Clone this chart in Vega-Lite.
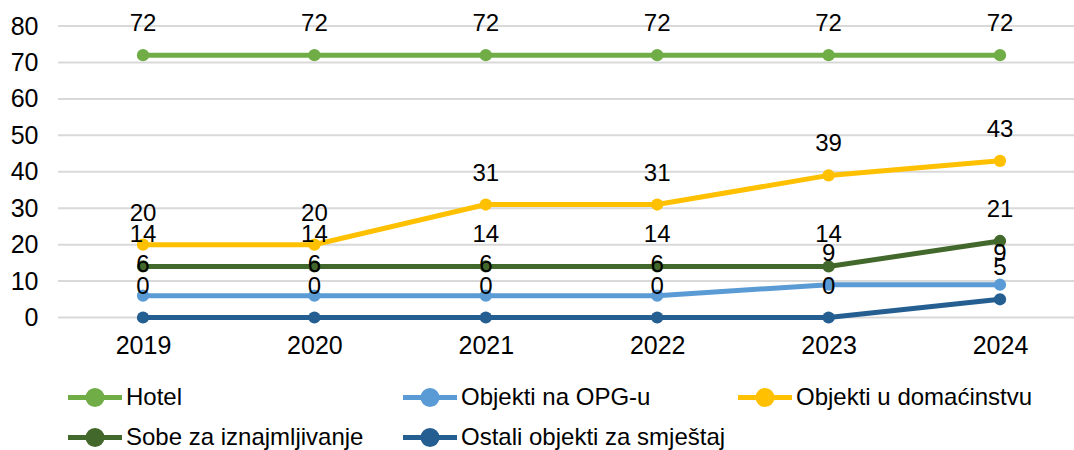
{
  "$schema": "https://vega.github.io/schema/vega-lite/v6.json",
  "width": 1016,
  "height": 291.5,
  "autosize": {"type": "none"},
  "padding": {"left": 58, "top": 26, "right": 0, "bottom": 132.5},
  "config": {
    "view": {"stroke": null},
    "font": "Liberation Sans",
    "axis": {"labelFont": "Liberation Sans", "labelColor": "#000000", "labelFontSize": 25},
    "legend": {"labelFont": "Liberation Sans", "rowPadding": 15, "clipHeight": 25}
  },
  "layer": [
    {
      "data": {"values": [{"g": 0}, {"g": 10}, {"g": 20}, {"g": 30}, {"g": 40}, {"g": 50}, {"g": 60}, {"g": 70}, {"g": 80}]},
      "mark": {"type": "rule", "color": "#d9d9d9", "strokeWidth": 2},
      "encoding": {
        "y": {
          "field": "g", "type": "quantitative",
          "scale": {"domain": [0, 80], "nice": false},
          "axis": {"title": null, "values": [0, 10, 20, 30, 40, 50, 60, 70, 80], "domain": false, "ticks": false, "grid": false, "labelPadding": 20}
        }
      }
    },
    {
      "data": {
        "values": [
          {"year": "2019", "series": "Hotel", "value": 72},
          {"year": "2020", "series": "Hotel", "value": 72},
          {"year": "2021", "series": "Hotel", "value": 72},
          {"year": "2022", "series": "Hotel", "value": 72},
          {"year": "2023", "series": "Hotel", "value": 72},
          {"year": "2024", "series": "Hotel", "value": 72},
          {"year": "2019", "series": "Objekti na OPG-u", "value": 6},
          {"year": "2020", "series": "Objekti na OPG-u", "value": 6},
          {"year": "2021", "series": "Objekti na OPG-u", "value": 6},
          {"year": "2022", "series": "Objekti na OPG-u", "value": 6},
          {"year": "2023", "series": "Objekti na OPG-u", "value": 9},
          {"year": "2024", "series": "Objekti na OPG-u", "value": 9},
          {"year": "2019", "series": "Objekti u domaćinstvu", "value": 20},
          {"year": "2020", "series": "Objekti u domaćinstvu", "value": 20},
          {"year": "2021", "series": "Objekti u domaćinstvu", "value": 31},
          {"year": "2022", "series": "Objekti u domaćinstvu", "value": 31},
          {"year": "2023", "series": "Objekti u domaćinstvu", "value": 39},
          {"year": "2024", "series": "Objekti u domaćinstvu", "value": 43},
          {"year": "2019", "series": "Sobe za iznajmljivanje", "value": 14},
          {"year": "2020", "series": "Sobe za iznajmljivanje", "value": 14},
          {"year": "2021", "series": "Sobe za iznajmljivanje", "value": 14},
          {"year": "2022", "series": "Sobe za iznajmljivanje", "value": 14},
          {"year": "2023", "series": "Sobe za iznajmljivanje", "value": 14},
          {"year": "2024", "series": "Sobe za iznajmljivanje", "value": 21},
          {"year": "2019", "series": "Ostali objekti za smještaj", "value": 0},
          {"year": "2020", "series": "Ostali objekti za smještaj", "value": 0},
          {"year": "2021", "series": "Ostali objekti za smještaj", "value": 0},
          {"year": "2022", "series": "Ostali objekti za smještaj", "value": 0},
          {"year": "2023", "series": "Ostali objekti za smještaj", "value": 0},
          {"year": "2024", "series": "Ostali objekti za smještaj", "value": 5}
        ]
      },
      "encoding": {
        "x": {
          "field": "year", "type": "ordinal",
          "scale": {"type": "point", "range": [85, 942], "padding": 0},
          "axis": {"title": null, "labelAngle": 0, "domain": false, "ticks": false, "grid": false, "labelPadding": 16}
        },
        "y": {
          "field": "value", "type": "quantitative",
          "scale": {"domain": [0, 80], "nice": false},
          "axis": {"title": null, "values": [0, 10, 20, 30, 40, 50, 60, 70, 80], "domain": false, "ticks": false, "grid": false, "labelPadding": 20}
        }
      },
      "layer": [
        {
          "mark": {"type": "line", "strokeWidth": 5},
          "encoding": {
            "color": {
              "field": "series", "type": "nominal",
              "scale": {
                "domain": ["Hotel", "Objekti na OPG-u", "Objekti u domaćinstvu", "Sobe za iznajmljivanje", "Ostali objekti za smještaj"],
                "range": ["#70AD47", "#5B9BD5", "#FFC000", "#43682B", "#255E91"]
              },
              "legend": {
                "title": null,
                "orient": "none",
                "legendX": 10,
                "legendY": 359,
                "direction": "horizontal",
                "columns": 3,
                "gridAlign": "all",
                "columnPadding": 12,
                "rowPadding": 15,
                "clipHeight": 25,
                "symbolType": "M-1.25,0H4.15M0.75,0A0.7,0.7,0,1,1,2.15,0A0.7,0.7,0,1,1,0.75,0Z",
                "symbolSize": 400,
                "symbolStrokeWidth": 5,
                "labelFontSize": 24,
                "labelColor": "#000000",
                "labelOffset": 33,
                "labelLimit": 400,
                "encode": {
                  "symbols": {
                    "update": {
                      "fill": {"scale": "color", "field": "value"},
                      "stroke": {"scale": "color", "field": "value"},
                      "fillOpacity": {"value": 1},
                      "strokeOpacity": {"value": 1}
                    }
                  }
                }
              }
            }
          }
        },
        {
          "mark": {"type": "point", "filled": true, "size": 150, "opacity": 1},
          "encoding": {
            "color": {"field": "series", "type": "nominal"}
          }
        },
        {
          "mark": {"type": "text", "dy": -31, "fontSize": 24, "color": "#000000"},
          "encoding": {
            "text": {"field": "value", "type": "quantitative"}
          }
        }
      ]
    }
  ]
}
